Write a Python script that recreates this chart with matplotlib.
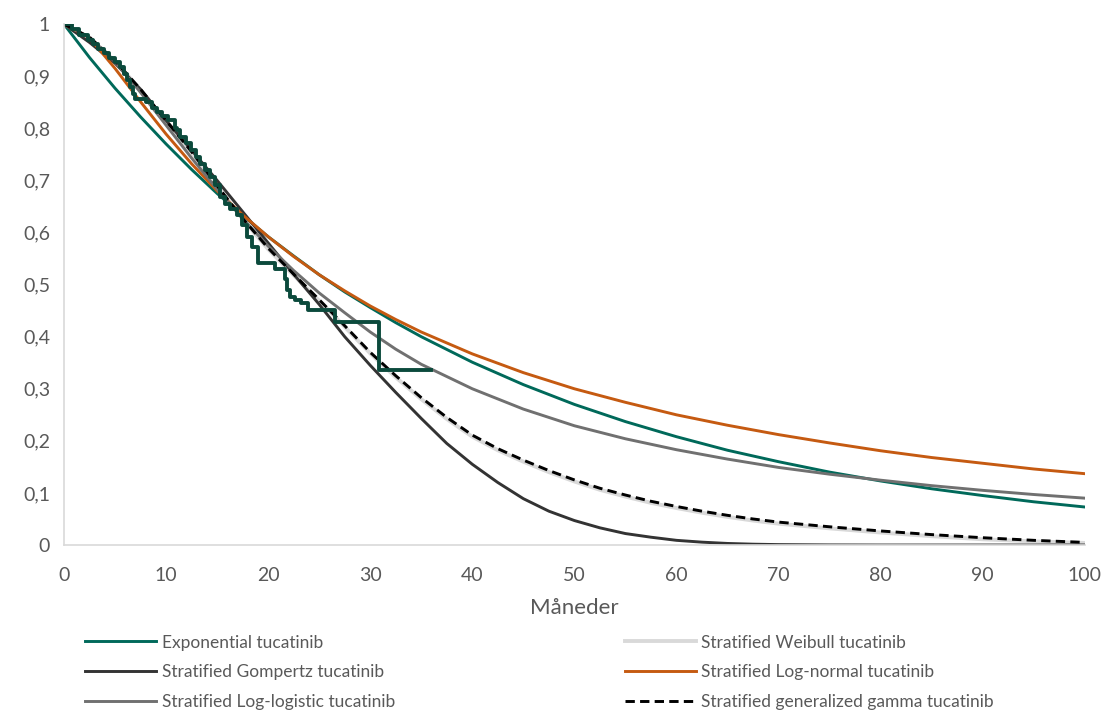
import matplotlib.pyplot as plt

# ========== Data ==========

# Kaplan-Meier (observed) tucatinib, step curve
km_t = [0, 0.8, 1.5, 2.3, 2.8, 3.3, 3.9, 4.4, 5.0, 5.5, 5.9, 6.2, 6.5, 6.8, 7.0,
        8.0, 8.6, 9.1, 9.6, 10.2, 10.9, 11.1, 11.4, 11.9, 12.4, 12.9, 13.3, 13.8,
        14.3, 14.8, 15.3, 15.8, 16.3, 16.9, 17.4, 17.9, 18.4, 19.0, 20.7, 21.6,
        21.8, 22.1, 22.6, 23.2, 23.9, 26.5, 30.9, 36.0]
km_s = [1.0, 0.99, 0.98, 0.97, 0.962, 0.953, 0.945, 0.935, 0.928, 0.918, 0.905,
        0.893, 0.879, 0.866, 0.857, 0.85, 0.84, 0.831, 0.823, 0.816, 0.80, 0.797,
        0.783, 0.772, 0.758, 0.745, 0.732, 0.72, 0.707, 0.692, 0.668, 0.655,
        0.645, 0.633, 0.614, 0.592, 0.572, 0.541, 0.53, 0.51, 0.49, 0.476, 0.47,
        0.464, 0.451, 0.428, 0.336, 0.336]

# fitted curves, months
t_fit = [0, 2.5, 5, 7.5, 10, 12.5, 15, 17.5, 20, 22.5, 25, 27.5, 30, 32.5, 35,
         40, 45, 50, 55, 60, 65, 70, 75, 80, 85, 90, 95, 100]

exponential = [1.0, 0.936, 0.877, 0.822, 0.770, 0.721, 0.675, 0.633, 0.592, 0.555,
               0.519, 0.486, 0.456, 0.427, 0.400, 0.351, 0.308, 0.270, 0.237,
               0.208, 0.182, 0.160, 0.140, 0.123, 0.108, 0.095, 0.083, 0.073]
lognormal = [1.0, 0.974, 0.915, 0.851, 0.789, 0.732, 0.680, 0.634, 0.592, 0.554,
             0.519, 0.488, 0.459, 0.433, 0.409, 0.367, 0.331, 0.300, 0.274,
             0.250, 0.230, 0.212, 0.196, 0.181, 0.168, 0.157, 0.146, 0.137]
loglogistic = [1.0, 0.975, 0.928, 0.869, 0.806, 0.743, 0.683, 0.627, 0.574,
               0.527, 0.484, 0.446, 0.409, 0.376, 0.347, 0.300, 0.261, 0.229,
               0.204, 0.183, 0.165, 0.149, 0.136, 0.1245, 0.114, 0.105, 0.097,
               0.090]

t_tail = [0, 2.5, 5, 7.5, 10, 12.5, 15, 17.5, 20, 22.5, 25, 27.5, 30, 32.5, 35,
          37.5, 40, 42.5, 45, 47.5, 50, 52.5, 55, 57.5, 60, 62.5, 65, 67.5, 70,
          75, 80, 85, 90, 95, 100]

gompertz = [1.0, 0.965, 0.925, 0.875, 0.815, 0.758, 0.700, 0.640, 0.580, 0.520,
            0.462, 0.400, 0.345, 0.293, 0.243, 0.195, 0.155, 0.120, 0.089, 0.065,
            0.047, 0.033, 0.022, 0.015, 0.009, 0.0055, 0.003, 0.0016, 0.0008,
            0.0002, 0.0, 0.0, 0.0, 0.0, 0.0]
gengamma = [1.0, 0.975, 0.930, 0.875, 0.815, 0.755, 0.690, 0.627, 0.570, 0.520,
            0.471, 0.421, 0.370, 0.325, 0.283, 0.245, 0.211, 0.185, 0.163, 0.143,
            0.125, 0.109, 0.096, 0.084, 0.074, 0.065, 0.057, 0.050, 0.044, 0.035,
            0.027, 0.020, 0.014, 0.009, 0.005]
weibull = [1.0, 0.974, 0.929, 0.874, 0.814, 0.754, 0.689, 0.626, 0.568, 0.518,
           0.469, 0.419, 0.368, 0.322, 0.280, 0.242, 0.208, 0.182, 0.160, 0.140,
           0.122, 0.106, 0.093, 0.081, 0.071, 0.062, 0.054, 0.047, 0.041, 0.032,
           0.024, 0.017, 0.011, 0.007, 0.004]

x_ticks = [0, 10, 20, 30, 40, 50, 60, 70, 80, 90, 100]
y_ticks = [0, 0.1, 0.2, 0.3, 0.4, 0.5, 0.6, 0.7, 0.8, 0.9, 1.0]
y_tick_labels = ["0", "0,1", "0,2", "0,3", "0,4", "0,5", "0,6", "0,7", "0,8", "0,9", "1"]

# ========== Plot ==========

plt.rcParams['font.family'] = ['Lato', 'DejaVu Sans']
text_grey = '#595959'

fig = plt.figure(figsize=(11.08, 7.13), dpi=100)
ax = fig.add_axes([0.0578, 0.2356, 0.9212, 0.7304])

l_exp, = ax.plot(t_fit, exponential, color='#00695A', lw=2.1, label='Exponential tucatinib')
l_wei, = ax.plot(t_tail, weibull, color='#D9D9D9', lw=2.8, label='Stratified Weibull tucatinib')
l_gom, = ax.plot(t_tail, gompertz, color='#333333', lw=2.1, label='Stratified Gompertz tucatinib')
l_lgn, = ax.plot(t_fit, lognormal, color='#C55A11', lw=2.1, label='Stratified Log-normal tucatinib')
l_llg, = ax.plot(t_fit, loglogistic, color='#707070', lw=2.1, label='Stratified Log-logistic tucatinib')
l_gg, = ax.plot(t_tail, gengamma, color='black', lw=2.1, ls=(0, (3.2, 1.8)),
                label='Stratified generalized gamma tucatinib')
ax.plot(km_t, km_s, color='#0B4A3C', lw=2.8, drawstyle='steps-post')

ax.set_xlim(0, 100)
ax.set_ylim(0, 1)
ax.set_xticks(x_ticks)
ax.set_yticks(y_ticks)
ax.set_yticklabels(y_tick_labels)
ax.tick_params(length=0, labelsize=14, colors=text_grey, pad=10)
ax.tick_params(axis='x', pad=16)
for side in ['top', 'right']:
    ax.spines[side].set_visible(False)
for side in ['left', 'bottom']:
    ax.spines[side].set_color('#D9D9D9')
    ax.spines[side].set_linewidth(1.2)
ax.set_xlabel('Måneder', fontsize=16, color=text_grey, labelpad=10)

# legend in two separate columns
kw = dict(loc='upper left', frameon=False, fontsize=12.5, handlelength=4.1,
          handletextpad=0.3, borderpad=0, borderaxespad=0, labelspacing=0.8,
          labelcolor=text_grey)
fig.legend(handles=[l_exp, l_gom, l_llg], bbox_to_anchor=(0.077, 0.110), **kw)
fig.legend(handles=[l_wei, l_lgn, l_gg], bbox_to_anchor=(0.564, 0.110), **kw)

fig.savefig('out.png', dpi=100)
